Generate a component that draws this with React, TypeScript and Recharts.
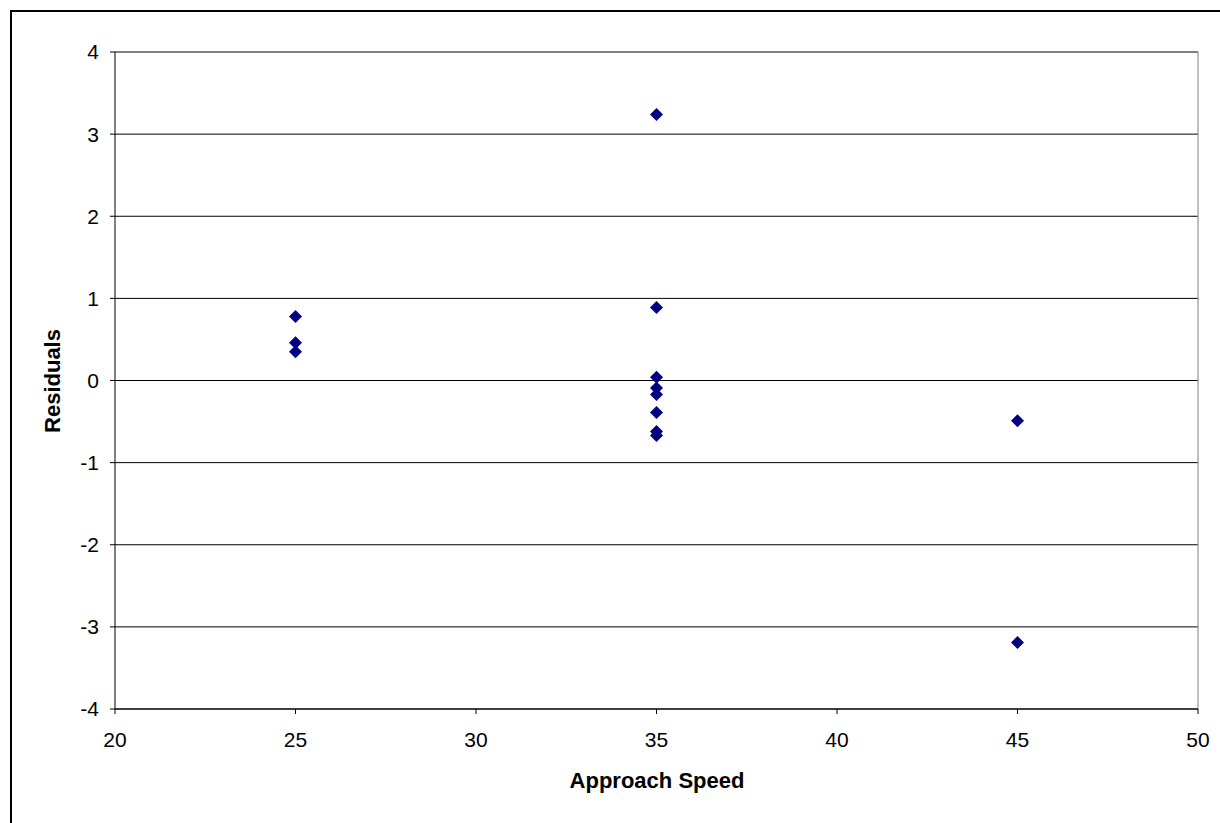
import { CartesianGrid, Label, ReferenceLine, Scatter, ScatterChart, XAxis, YAxis } from "recharts"

const approachSpeed = [25, 25, 25, 35, 35, 35, 35, 35, 35, 35, 35, 45, 45]
const residuals = [0.78, 0.46, 0.35, 3.24, 0.89, 0.04, -0.09, -0.17, -0.39, -0.62, -0.67, -0.49, -3.19]
const xTicks = [20, 25, 30, 35, 40, 45, 50]
const yTicks = [-4, -3, -2, -1, 0, 1, 2, 3, 4]

const data = approachSpeed.map((x, i) => ({ x, y: residuals[i] }))

const font = "'Liberation Sans', Arial, sans-serif"
const tickStyle = { fill: "#000", fontSize: 21, fontFamily: font }

function Diamond(props: any) {
  const { cx, cy } = props
  const r = 6.5
  return <path d={`M${cx},${cy - r}L${cx + r},${cy}L${cx},${cy + r}L${cx - r},${cy}Z`} fill="#000080" />
}

export default function App() {
  return (
    <div style={{ position: "fixed", left: 0, top: 0, width: 1220, height: 823, overflow: "hidden", background: "#fff" }}>
      <div
        style={{
          position: "absolute",
          left: 10,
          top: 10,
          width: 1300,
          height: 900,
          borderLeft: "2px solid #000",
          borderTop: "2px solid #000",
        }}
      />
      <div style={{ position: "absolute", left: 0, top: 0 }}>
        <ScatterChart width={1220} height={823} margin={{ top: 52, right: 22, left: 15, bottom: 29 }}>
          <CartesianGrid vertical={false} stroke="#000" strokeWidth={1} />
          <XAxis
            type="number"
            dataKey="x"
            domain={[20, 50]}
            ticks={xTicks}
            height={85}
            stroke="#000"
            tickSize={5}
            tickMargin={18}
            tick={tickStyle}
          >
            <Label
              content={() => (
                <text x={657} y={788} textAnchor="middle" fontSize={22} fontWeight="bold" fontFamily={font} fill="#000">
                  Approach Speed
                </text>
              )}
            />
          </XAxis>
          <YAxis
            type="number"
            dataKey="y"
            domain={[-4, 4]}
            ticks={yTicks}
            width={100}
            stroke="#000"
            tickSize={5}
            tickMargin={11}
            tick={tickStyle}
          >
            <Label
              content={() => (
                <text
                  x={52}
                  y={381}
                  dy="0.35em"
                  textAnchor="middle"
                  transform="rotate(-90, 52, 381)"
                  fontSize={22}
                  fontWeight="bold"
                  fontFamily={font}
                  fill="#000"
                >
                  Residuals
                </text>
              )}
            />
          </YAxis>
          <ReferenceLine y={4} stroke="#808080" />
          <ReferenceLine x={50} stroke="#808080" />
          <Scatter data={data} shape={Diamond} isAnimationActive={false} />
        </ScatterChart>
      </div>
    </div>
  )
}
